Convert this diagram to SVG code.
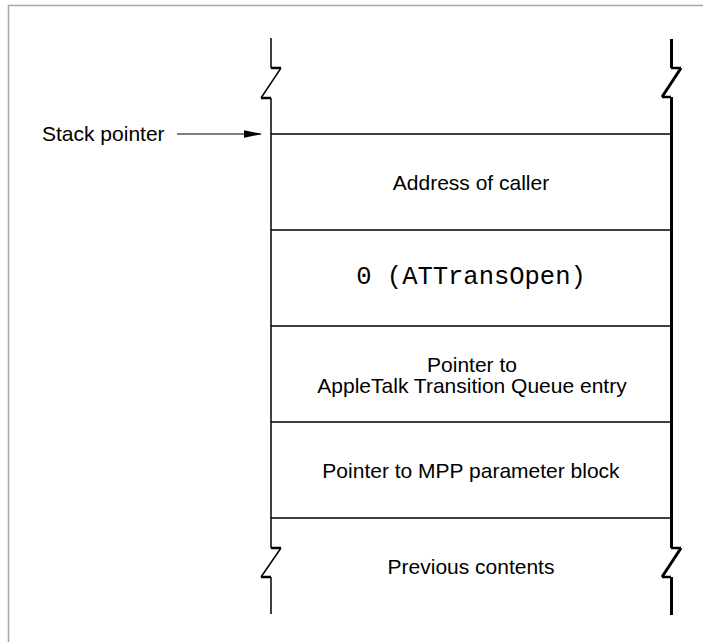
<svg xmlns="http://www.w3.org/2000/svg" width="703" height="642" viewBox="0 0 703 642">
<style>
.frame{stroke:#a6a6a6;stroke-width:1.5;fill:none}
.lft{stroke:#000;stroke-width:1.5;fill:none}
.rgt{stroke:#000;stroke-width:3;fill:none}
.tick{stroke:#000;stroke-width:2.5;fill:none}
.row{stroke:#000;stroke-width:1.3;fill:none}
.t{font-family:"Liberation Sans",Arial,Helvetica,sans-serif;font-size:21px;fill:#000}
.m{font-family:"Liberation Mono","Courier New",monospace;font-size:25.5px;fill:#000}
</style>
<defs>
<marker id="ah" markerWidth="18" markerHeight="8" refX="17" refY="4" orient="auto" markerUnits="userSpaceOnUse">
<polygon points="0,0.3 18,4 0,7.7" fill="#000"/>
</marker>
</defs>
<rect width="703" height="642" fill="#fff"/>
<path class="frame" d="M8.5,642 V5.5 H703"/>
<g id="stack-frame">
<path class="lft" d="M271,38 V68 M281,68 L261,98 M271,98 V548 M281,548 L261,577 M271,577 V614"/>
<path class="tick" d="M271,68 H281 M261,98 H271 M271,548 H281 M261,577 H271"/>
<path class="rgt" d="M671.5,39 V68 M681,68 L662,97 M671.5,97 V548 M681,548 L662,577 M671.5,577 V615"/>
<path class="tick" d="M671,68 H681 M662,97 H671 M671,548 H681 M662,577 H671"/>
</g>
<g id="cell-caller">
<line class="row" x1="271" y1="134" x2="671" y2="134"/>
<text class="t" x="471" y="190" text-anchor="middle">Address of caller</text>
</g>
<g id="cell-selector">
<line class="row" x1="271" y1="230" x2="671" y2="230"/>
<text class="m" x="471" y="284" text-anchor="middle">0 (ATTransOpen)</text>
</g>
<g id="cell-queue">
<line class="row" x1="271" y1="326" x2="671" y2="326"/>
<text class="t" x="472" y="372" text-anchor="middle">Pointer to</text>
<text class="t" x="472" y="393" text-anchor="middle">AppleTalk Transition Queue entry</text>
</g>
<g id="cell-mpp">
<line class="row" x1="271" y1="422" x2="671" y2="422"/>
<text class="t" x="471" y="478" text-anchor="middle">Pointer to MPP parameter block</text>
</g>
<g id="cell-previous">
<line class="row" x1="271" y1="518" x2="671" y2="518"/>
<text class="t" x="471" y="574" text-anchor="middle">Previous contents</text>
</g>
<g id="stack-pointer">
<text class="t" x="42" y="141">Stack pointer</text>
</g>
<g id="connectors">
<line x1="177" y1="134" x2="261" y2="134" stroke="#000" stroke-width="1.2" marker-end="url(#ah)"/>
</g>
</svg>
